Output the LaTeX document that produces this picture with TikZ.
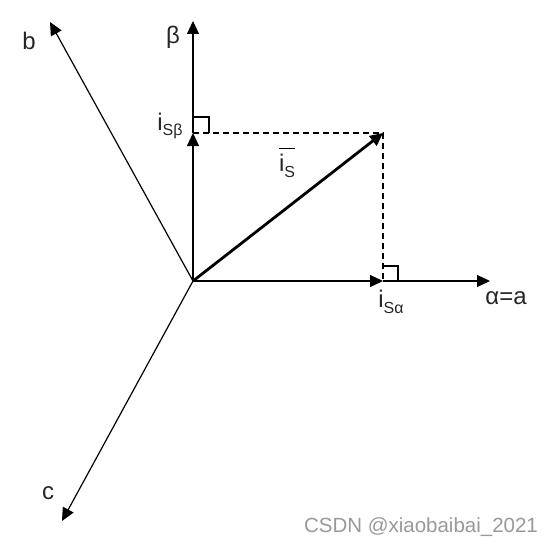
\documentclass[tikz,border=0pt]{standalone}
\usepackage{fontspec}
\setmainfont{Liberation Sans}
\usetikzlibrary{arrows.meta,positioning}
\tikzset{>={Triangle[length=13pt,width=12pt]}}
\tikzset{axis/.style={->,line width=1.2pt},
  phasor/.style={->,line width=2.8pt},
  proj/.style={line width=1.1pt,dash pattern=on 6pt off 4pt},
  rangle/.style={line width=1.1pt},
  lbl/.style={text=black!85,font=\fontsize{24}{26}\selectfont,inner sep=0pt}}
\newcommand{\sub}[1]{\raisebox{-0.45ex}{\fontsize{16}{16}\selectfont #1}}

\begin{document}
\begin{tikzpicture}[x=1pt,y=-1pt]
      \useasboundingbox (0,0) rectangle (557,551);
      \coordinate (O) at (193,281);
      \coordinate (a) at (490,281);
      \coordinate (beta) at (193,21);
      \coordinate (b) at (50,22);
      \coordinate (c) at (62,521);
      \coordinate (isa) at (383,281);
      \coordinate (isb) at (193,133);
      \coordinate (S) at (383,133);
      % axes
      \draw[axis] (O) -- (isa);
      \draw[axis] (isa) -- (a);
      \draw[axis] (O) -- (isb);
      \draw[axis] (isb) -- (beta);
      \draw[axis] (O) -- (b);
      \draw[axis] (O) -- (c);
      % projections
      \draw[proj] (isb) -- (S) -- (isa);
      \draw[rangle] ([yshift=16]isb) -| ([xshift=16]isb);
      \draw[rangle] ([yshift=15]isa) -| ([xshift=15]isa);
      \draw[phasor] (O) -- (S);
      % labels
      \node[lbl] (lbeta) at (173,37) {β};
      \node[lbl] (lisb) at (170,126) {i\sub{Sβ}};
      \node[lbl] (lis) at (287,166) {i\sub{S}};
      \draw[line width=1.1pt] ([yshift=6]lis.north west) -- ([yshift=6]lis.north east);
      \node[lbl] (lisa) at (391,302) {i\sub{Sα}};
      \node[lbl] (la) at (506,298) {α=a};
      \node[lbl] (lb) at (29,41) {b};
      \node[lbl] (lc) at (48,493) {c};
      \node[text=black!40,font=\fontsize{20.5}{22}\selectfont,inner sep=0pt] (mark) at (421,527) {CSDN @xiaobaibai\_2021};
    \end{tikzpicture}
\end{document}
